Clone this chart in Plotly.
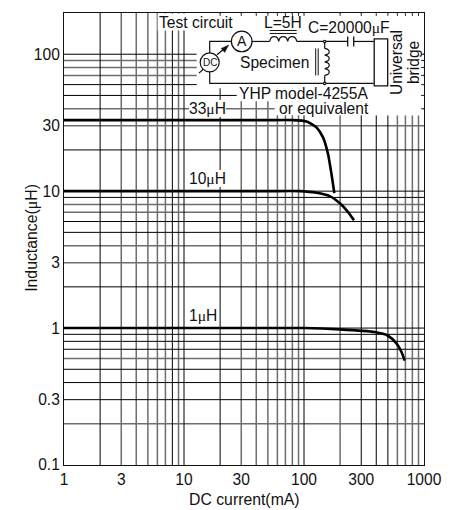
import math
import plotly.graph_objects as go

# --- chart data ---
current_33uH = [1, 10, 50, 80.5, 105, 115, 127, 144, 158.5, 169, 179]
inductance_33uH = [33, 33, 33, 33, 32.3, 31, 29.2, 24.7, 18.7, 13.5, 9.67]
current_10uH = [1, 10, 50, 92, 127, 164, 198, 233, 261]
inductance_10uH = [10, 10, 10, 10, 9.73, 9.19, 8.18, 7.03, 6.12]
current_1uH = [1, 10, 100, 198, 388, 501, 589, 648, 691]
inductance_1uH = [1, 1, 1, 0.978, 0.935, 0.879, 0.774, 0.672, 0.578]

x_tick_vals = [1, 3, 10, 30, 100, 300, 1000]
x_tick_text = ["1", "3", "10", "30", "100", "300", "1000"]
y_tick_vals = [0.1, 0.3, 1, 3, 10, 30, 100]
y_tick_text = ["0.1", "0.3", "1", "3", "10", "30", "100"]

x_grid_black = [2, 8, 20, 100, 10, 300, 400, 500]
x_grid_gray = [3, 4, 5, 6, 7, 9, 30, 40, 50, 60, 70, 80, 90, 200, 600, 700, 800, 900]
y_grid_black = [0.3, 0.4, 0.5, 0.7, 0.8, 0.9, 1, 2, 5, 6, 9, 10, 20, 50, 60, 100]
y_grid_gray = [0.2, 0.6, 3, 4, 7, 8, 30, 40, 70, 80, 90]

# --- layout geometry (page pixels) ---
W, H = 457, 510
L, R, T, B = 64.3, 424.3, 12.5, 465.3
XMAX, YMIN, YMAX = 1000, 0.1, 200
DEC_X = (R - L) / 3
DEC_Y = (B - T) / (math.log10(YMAX) - math.log10(YMIN))

def dx(px):
    return 10 ** ((px - L) / DEC_X)
def dy(py):
    return 10 ** (math.log10(YMIN) + (B - py) / DEC_Y)
def fx(px):
    return (px - L) / (R - L)
def fy(py):
    return 1 - (py - T) / (B - T)

shapes = []
def grid(vals, axis, color, width):
    for v in vals:
        if axis == "x":
            shapes.append(dict(type="line", xref="x", yref="y", x0=v, x1=v, y0=YMIN, y1=YMAX,
                               layer="between", line=dict(color=color, width=width)))
        else:
            shapes.append(dict(type="line", xref="x", yref="y", x0=1, x1=XMAX, y0=v, y1=v,
                               layer="between", line=dict(color=color, width=width)))

GRAY = "#6e6e6e"
grid(x_grid_gray, "x", GRAY, 1.5)
grid(y_grid_gray, "y", GRAY, 1.5)
grid(x_grid_black, "x", "#000", 1)
grid(y_grid_black, "y", "#000", 1)

# white masks over the grid behind the schematic
for x0, y0, x1, y1 in [(197, 13, 423, 88), (372, 13, 423, 115), (237, 88, 423, 101), (275, 101, 423, 115), (158, 13, 197, 30)]:
    shapes.append(dict(type="rect", xref="x", yref="y", x0=dx(x0), x1=dx(x1), y0=dy(y1), y1=dy(y0),
                       layer="between", fillcolor="white", line=dict(width=0)))

# short grid stubs left on the frame inside the masked block
TICK = 3
for v in x_grid_black + x_grid_gray:
    if v >= dx(197):
        shapes.append(dict(type="line", xref="x", yref="paper", x0=v, x1=v, y0=1, y1=fy(T + TICK),
                           layer="above", line=dict(color="#333", width=1)))
for v in y_grid_black + y_grid_gray:
    if v >= dy(115):
        shapes.append(dict(type="line", xref="paper", yref="y", x0=1, x1=fx(R - TICK), y0=v, y1=v,
                           layer="above", line=dict(color="#333", width=1)))

def seg(pts, width=1.2, fill=None):
    d = "M " + " L ".join(f"{fx(a):.5f},{fy(b):.5f}" for a, b in pts)
    s = dict(type="path", xref="paper", yref="paper", path=d, layer="above", line=dict(color="#111", width=width))
    if fill:
        s["path"] += " Z"
        s["fillcolor"] = fill
    shapes.append(s)

def circle(cx, cy, r, width=1.2):
    shapes.append(dict(type="circle", xref="paper", yref="paper", x0=fx(cx - r), x1=fx(cx + r),
                       y0=fy(cy + r), y1=fy(cy - r), layer="above", fillcolor="white",
                       line=dict(color="#111", width=width)))

# wires
seg([(232, 41), (210, 41), (210, 83), (374, 83)])
seg([(252, 41), (270, 41)])
seg([(297, 41), (348, 41)])
seg([(354, 41), (374, 41)])
seg([(325, 41), (325, 48)])
seg([(325, 75), (325, 83)])
# DC meter arrow
seg([(199.3, 72.7), (204, 68.3)])
seg([(217.3, 54.3), (226, 47)])
seg([(229, 44.5), (221.5, 48), (225, 52)], fill="#111", width=0.5)
circle(242, 41, 10.3)
circle(210, 62, 9.5)
# series coil with core
hump = 9
d = f"M {fx(270):.5f},{fy(41):.5f}"
for i in range(3):
    x0 = 270 + i * hump
    d += f" C {fx(x0 + 1):.5f},{fy(34.5):.5f} {fx(x0 + hump - 1):.5f},{fy(34.5):.5f} {fx(x0 + hump):.5f},{fy(41):.5f}"
shapes.append(dict(type="path", xref="paper", yref="paper", path=d, layer="above", line=dict(color="#111", width=1.2)))
seg([(270, 30), (297, 30)], 1)
seg([(270, 33), (297, 33)], 1)
# specimen coil with core
hump = 6.75
d = f"M {fx(325):.5f},{fy(48):.5f}"
for i in range(4):
    y0 = 48 + i * hump
    d += f" C {fx(331):.5f},{fy(y0 + 1):.5f} {fx(331):.5f},{fy(y0 + hump - 1):.5f} {fx(325):.5f},{fy(y0 + hump):.5f}"
shapes.append(dict(type="path", xref="paper", yref="paper", path=d, layer="above", line=dict(color="#111", width=1.2)))
seg([(316, 48), (316, 75)], 1)
seg([(318.5, 48), (318.5, 75)], 1)
circle(325, 41, 1.2)
circle(325, 83, 1.2)
# capacitor
seg([(348, 36), (348, 46)], 1.3)
seg([(354, 36), (354, 46)], 1.3)
# bridge box
shapes.append(dict(type="rect", xref="paper", yref="paper", x0=fx(374.5), x1=fx(388), y0=fy(85.5), y1=fy(38.5),
                   layer="above", fillcolor="white", line=dict(color="#111", width=1.3)))

MU = '<span style="font-family:Liberation Serif">μ</span>'
FONT = "Liberation Sans"
SIZE = 15.6

def label(px, py, text, anchor="left", angle=0, bg=None, size=SIZE):
    a = dict(xref="paper", yref="paper", x=fx(px), y=fy(py), text=text, showarrow=False,
             xanchor=anchor, yanchor="middle", textangle=angle, borderpad=0, borderwidth=0,
             font=dict(family=FONT, size=size, color="#111"))
    if bg:
        a["bgcolor"] = bg
    return a

annotations = [
    label(159.5, 22, "Test circuit"),
    label(264, 22.5, "L=5H"),
    label(308, 27, f"C=20000{MU}F"),
    label(240, 62, "Specimen"),
    label(239, 93.5, "YHP model-4255A"),
    label(279, 108, "or equivalent"),
    label(189, 108, f"33{MU}H", bg="white"),
    label(189, 178.5, f"10{MU}H", bg="white"),
    label(189, 316, f"1{MU}H", bg="white"),
    label(397, 62, "Universal", anchor="center", angle=-90),
    label(414, 62, "bridge", anchor="center", angle=-90),
    label(242, 41, "A", anchor="center", size=14),
    label(210, 62, "DC", anchor="center", size=10),
    label(244.5, 500, "DC current(mA)", anchor="center", size=15.8),
    label(32, 238, f"Inductance({MU}H)", anchor="center", angle=-90, size=15.8),
]

fig = go.Figure()
for xs, ys, name in [(current_33uH, inductance_33uH, "33µH"),
                     (current_10uH, inductance_10uH, "10µH"),
                     (current_1uH, inductance_1uH, "1µH")]:
    fig.add_trace(go.Scatter(x=xs, y=ys, mode="lines", name=name, showlegend=False, hoverinfo="skip",
                             line=dict(color="#000", width=2.6, shape="spline", smoothing=0.6)))

fig.update_layout(
    width=W, height=H, autosize=False, paper_bgcolor="white", plot_bgcolor="white",
    margin=dict(l=L, r=W - R, t=T, b=H - B, pad=0),
    font=dict(family=FONT, size=15.6, color="#111"),
    shapes=shapes, annotations=annotations, showlegend=False,
    xaxis=dict(type="log", range=[0, 3], tickmode="array", tickvals=x_tick_vals, ticktext=x_tick_text,
               showgrid=False, zeroline=False, showline=True, linecolor="#111", linewidth=1, mirror=True,
               ticks="", automargin=False),
    yaxis=dict(type="log", range=[-1, math.log10(200)], tickmode="array", tickvals=y_tick_vals, ticktext=y_tick_text,
               showgrid=False, zeroline=False, showline=True, linecolor="#111", linewidth=1, mirror=True,
               ticks="", automargin=False),
)
fig.write_html("out.html", config={"displayModeBar": False},
               post_script="document.body.style.margin='0';document.documentElement.style.overflow='hidden';")
